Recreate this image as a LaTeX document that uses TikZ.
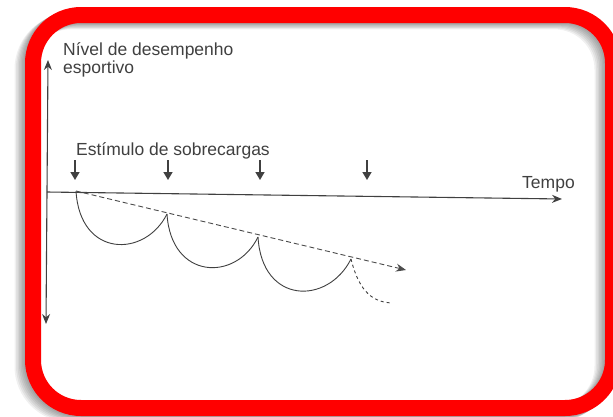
\documentclass[tikz,border=0pt]{standalone}
\usepackage{fontspec}
\setmainfont{Liberation Sans}
\usetikzlibrary{arrows.meta, positioning}

\begin{document}
\begin{tikzpicture}[
  x=1pt, y=-1pt,
  axis/.style={line width=1.1pt, draw=black!75},
  axarr/.style={axis, -{Stealth[length=10pt, width=8pt]}},
  stim/.style={line width=1.5pt, draw=black!75, -{Triangle[length=8pt, width=9pt]}},
  trend/.style={line width=0.9pt, draw=black!70, dashed, dash pattern=on 5pt off 3pt},
  scallop/.style={line width=0.9pt, draw=black!75},
  lbl/.style={text=black!75, inner sep=0pt, anchor=west, font=\fontsize{17.5}{15}\selectfont},
]

%% ════════════════════════════════════════════════
%% FRAME
%% ════════════════════════════════════════════════
\useasboundingbox (0,0) rectangle (613,416);
\fill[white] (0,0) rectangle (613,416);

%% soft shadow on the left / bottom
\foreach \k in {1,...,7}
  \draw[line width=16pt, black, opacity=0.06, rounded corners=48pt]
    ([shift={(-\k*1.5,\k*0.9)}]33,15) rectangle ([shift={(-\k*1.5,\k*0.9)}]613,408);

\draw[line width=16pt, red, rounded corners=48pt] (33,15) rectangle (613,408);

%% ════════════════════════════════════════════════
%% AXES
%% ════════════════════════════════════════════════
\coordinate (ybot) at (46,324);
\coordinate (ytop) at (48,60);
\coordinate (xleft) at (47,192);
\coordinate (xright) at (562,199);

\draw[axis, {Stealth[length=10pt, width=8pt]}-{Stealth[length=10pt, width=8pt]}] (ybot) -- (ytop);
\draw[axarr] (xleft) -- (xright);

\node[lbl, align=left, anchor=base west]
  (ylabel) at (63,73) {Nível de desempenho\\esportivo};
\node[lbl, anchor=base west]
  (tempo) at (522,188) {Tempo};

%% ════════════════════════════════════════════════
%% OVERLOAD STIMULI
%% ════════════════════════════════════════════════
\node[lbl, anchor=base west]
  (stimlabel) at (76,155) {Estímulo de sobrecargas};

\foreach \x [count=\i] in {75,168,260,367} {
  \coordinate (st\i) at (\x,160);
  \coordinate (sb\i) at (\x,180);
  \draw[stim] (st\i) -- (sb\i);
}

%% ════════════════════════════════════════════════
%% PERFORMANCE CURVE
%% ════════════════════════════════════════════════
\coordinate (p1) at (76,191);
\coordinate (p2) at (167,214);
\coordinate (p3) at (258,237);
\coordinate (p4) at (351,259);
\coordinate (tail) at (392,303);
\coordinate (trendend) at (406,270);

\draw[scallop] (p1) .. controls (80,258) and (145,258) .. (p2);
\draw[scallop] (p2) .. controls (171,280) and (236,282) .. (p3);
\draw[scallop] (p3) .. controls (262,305) and (328,305) .. (p4);
\draw[scallop, dashed] (p4) .. controls (360,295) and (375,302) .. (tail);

%% downward trend
\draw[trend, -{Stealth[length=10pt, width=8pt]}] (p1) -- (trendend);

\end{tikzpicture}
\end{document}
